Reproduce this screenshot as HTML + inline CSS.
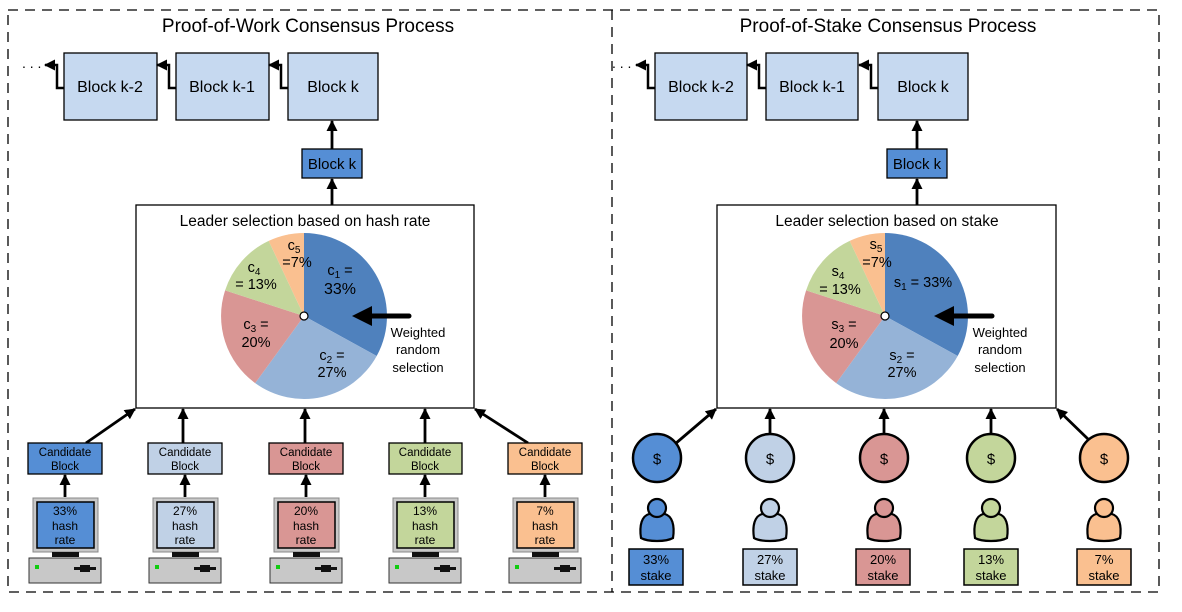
<!DOCTYPE html>
<html><head><meta charset="utf-8"><style>
body{margin:0;background:#fff;}
svg{display:block;font-family:"Liberation Sans",Arial,sans-serif;}
</style></head><body>
<svg width="1182" height="612" viewBox="0 0 1182 612" xmlns="http://www.w3.org/2000/svg">
<defs>
<marker id="ah" markerWidth="11" markerHeight="11" refX="10" refY="5.5" orient="auto" markerUnits="userSpaceOnUse"><path d="M0,0 L11,5.5 L0,11 Z" fill="#000"/></marker>
<g id="person">
<path d="M-16,19 C-18,6 -15,-3 -8,-5 L8,-5 C15,-3 18,6 16,19 C9,23 -9,23 -16,19 Z" stroke="#000" stroke-width="2.2"/>
<circle cx="0" cy="-11" r="9" stroke="#000" stroke-width="2.2"/>
</g>
</defs>
<rect x="8" y="10" width="1151" height="582" fill="none" stroke="#000" stroke-width="1.3" stroke-dasharray="10,7"/>
<line x1="612" y1="10" x2="612" y2="592" stroke="#000" stroke-width="1.3" stroke-dasharray="10,7"/>
<text x="308" y="32" font-size="19" text-anchor="middle">Proof-of-Work Consensus Process</text>
<text x="888" y="32" font-size="19" text-anchor="middle">Proof-of-Stake Consensus Process</text>

<g stroke="#000" stroke-width="1.3" fill="#c6d9f0">
<rect x="64" y="53" width="93" height="67"/>
<rect x="176" y="53" width="93" height="67"/>
<rect x="288" y="53" width="90" height="67"/>
</g>
<g font-size="16" text-anchor="middle">
<text x="110" y="92">Block k-2</text><text x="222" y="92">Block k-1</text><text x="333" y="92">Block k</text>
</g>
<g fill="none" stroke="#000" stroke-width="2.5">
<polyline points="64,88 57,88 57,65 45,65" marker-end="url(#ah)"/>
<polyline points="176,88 169,88 169,65 157,65" marker-end="url(#ah)"/>
<polyline points="288,88 281,88 281,65 269,65" marker-end="url(#ah)"/>
</g>
<text x="22" y="68" font-size="14">. . .</text>
<rect x="302" y="149" width="60" height="29" fill="#558ed5" stroke="#000" stroke-width="1.3"/>
<text x="332" y="169" font-size="15" text-anchor="middle">Block k</text>
<line x1="332" y1="149" x2="332" y2="121" stroke="#000" stroke-width="2.8" marker-end="url(#ah)"/>
<line x1="332" y1="205" x2="332" y2="179" stroke="#000" stroke-width="2.8" marker-end="url(#ah)"/>

<g stroke="#000" stroke-width="1.3" fill="#c6d9f0">
<rect x="655" y="53" width="92" height="67"/>
<rect x="766" y="53" width="92" height="67"/>
<rect x="878" y="53" width="90" height="67"/>
</g>
<g font-size="16" text-anchor="middle">
<text x="701" y="92">Block k-2</text><text x="812" y="92">Block k-1</text><text x="923" y="92">Block k</text>
</g>
<g fill="none" stroke="#000" stroke-width="2.5">
<polyline points="655,88 648,88 648,65 636,65" marker-end="url(#ah)"/>
<polyline points="766,88 759,88 759,65 747,65" marker-end="url(#ah)"/>
<polyline points="878,88 871,88 871,65 859,65" marker-end="url(#ah)"/>
</g>
<text x="612" y="68" font-size="14">. . .</text>
<rect x="887" y="149" width="60" height="29" fill="#558ed5" stroke="#000" stroke-width="1.3"/>
<text x="917" y="169" font-size="15" text-anchor="middle">Block k</text>
<line x1="917" y1="149" x2="917" y2="121" stroke="#000" stroke-width="2.8" marker-end="url(#ah)"/>
<line x1="917" y1="205" x2="917" y2="179" stroke="#000" stroke-width="2.8" marker-end="url(#ah)"/>

<rect x="136" y="205" width="338" height="203" fill="#fff" stroke="#000" stroke-width="1.3"/>
<rect x="717" y="205" width="339" height="203" fill="#fff" stroke="#000" stroke-width="1.3"/>
<text x="305" y="226" font-size="15.5" text-anchor="middle">Leader selection based on hash rate</text>
<text x="887" y="226" font-size="15.5" text-anchor="middle">Leader selection based on stake</text>

<g id="pieL">
<path d="M304,316 L304,233 A83,83 0 0 1 376.7,356 Z" fill="#4f81bd"/>
<path d="M304,316 L376.7,356 A83,83 0 0 1 255.2,383.1 Z" fill="#95b3d7"/>
<path d="M304,316 L255.2,383.1 A83,83 0 0 1 225.1,290.4 Z" fill="#d99694"/>
<path d="M304,316 L225.1,290.4 A83,83 0 0 1 268.7,240.9 Z" fill="#c3d69b"/>
<path d="M304,316 L268.7,240.9 A83,83 0 0 1 304,233 Z" fill="#fac090"/>
<circle cx="304" cy="316" r="4" fill="#fff" stroke="#000" stroke-width="1.2"/>
</g>
<use href="#pieL" transform="translate(581,0)"/>

<g font-size="14.5" text-anchor="middle">
<text x="294" y="250">c<tspan font-size="10" dy="3">5</tspan></text>
<text x="297" y="267">=7%</text>
<text x="340" y="275">c<tspan font-size="10" dy="3">1</tspan><tspan dy="-3"> =</tspan></text>
<text x="340" y="294" font-size="16">33%</text>
<text x="254" y="272">c<tspan font-size="10" dy="3">4</tspan></text>
<text x="256" y="289">= 13%</text>
<text x="256" y="329">c<tspan font-size="10" dy="3">3</tspan><tspan dy="-3"> =</tspan></text>
<text x="256" y="347">20%</text>
<text x="332" y="360">c<tspan font-size="10" dy="3">2</tspan><tspan dy="-3"> =</tspan></text>
<text x="332" y="377">27%</text>

<text x="876" y="249">s<tspan font-size="10" dy="3">5</tspan></text>
<text x="877" y="267">=7%</text>
<text x="923" y="287">s<tspan font-size="10" dy="3">1</tspan><tspan dy="-3"> = 33%</tspan></text>
<text x="838" y="276">s<tspan font-size="10" dy="3">4</tspan></text>
<text x="840" y="294">= 13%</text>
<text x="844" y="329">s<tspan font-size="10" dy="3">3</tspan><tspan dy="-3"> =</tspan></text>
<text x="844" y="348">20%</text>
<text x="902" y="360">s<tspan font-size="10" dy="3">2</tspan><tspan dy="-3"> =</tspan></text>
<text x="902" y="377">27%</text>
</g>
<g font-size="13" text-anchor="middle">
<text x="418" y="337">Weighted</text><text x="418" y="354">random</text><text x="418" y="372">selection</text>
<text x="1000" y="337">Weighted</text><text x="1000" y="354">random</text><text x="1000" y="372">selection</text>
</g>
<g stroke="#000" stroke-width="5" stroke-linecap="round">
<line x1="409" y1="316" x2="368" y2="316"/>
<line x1="992" y1="316" x2="950" y2="316"/>
</g>
<path d="M352,316 L372,306 L372,326 Z"/>
<path d="M934,316 L954,306 L954,326 Z"/>

<g stroke="#000" stroke-width="2.8">
<line x1="86" y1="443" x2="135" y2="409" marker-end="url(#ah)"/>
<line x1="183" y1="443" x2="183" y2="409" marker-end="url(#ah)"/>
<line x1="305" y1="443" x2="305" y2="409" marker-end="url(#ah)"/>
<line x1="425" y1="443" x2="425" y2="409" marker-end="url(#ah)"/>
<line x1="528" y1="443" x2="475" y2="409" marker-end="url(#ah)"/>
</g>
<g stroke="#000" stroke-width="1.3">
<rect x="28" y="443" width="74" height="31" fill="#558ed5"/>
<rect x="148" y="443" width="74" height="31" fill="#c0d1e6"/>
<rect x="269" y="443" width="74" height="31" fill="#d99694"/>
<rect x="389" y="443" width="73" height="31" fill="#c3d69b"/>
<rect x="508" y="443" width="74" height="31" fill="#fac090"/>
</g>
<g font-size="11.5" text-anchor="middle">
<text x="65" y="456">Candidate</text><text x="65" y="470">Block</text>
<text x="185" y="456">Candidate</text><text x="185" y="470">Block</text>
<text x="306" y="456">Candidate</text><text x="306" y="470">Block</text>
<text x="425" y="456">Candidate</text><text x="425" y="470">Block</text>
<text x="545" y="456">Candidate</text><text x="545" y="470">Block</text>
</g>
<g stroke="#000" stroke-width="2.8">
<line x1="65" y1="497" x2="65" y2="475" marker-end="url(#ah)"/>
<line x1="185" y1="497" x2="185" y2="475" marker-end="url(#ah)"/>
<line x1="306" y1="497" x2="306" y2="475" marker-end="url(#ah)"/>
<line x1="425" y1="497" x2="425" y2="475" marker-end="url(#ah)"/>
<line x1="545" y1="497" x2="545" y2="475" marker-end="url(#ah)"/>
</g>
<g id="comp">
<rect x="33" y="498" width="65" height="54" fill="#c8c8c8" stroke="#888" stroke-width="1"/>
<rect x="52" y="552" width="27" height="5" fill="#111"/>
<rect x="29" y="558" width="72" height="25" fill="#c8c8c8" stroke="#333" stroke-width="1"/>
<rect x="35" y="565" width="4" height="4" fill="#1c1"/>
<rect x="74" y="567" width="22" height="3" fill="#111"/>
<rect x="80" y="565" width="10" height="7" fill="#111"/>
</g>
<use href="#comp" transform="translate(120,0)"/>
<use href="#comp" transform="translate(241,0)"/>
<use href="#comp" transform="translate(360,0)"/>
<use href="#comp" transform="translate(480,0)"/>
<g stroke="#000" stroke-width="1.5">
<rect x="37" y="502" width="57" height="46" fill="#558ed5"/>
<rect x="157" y="502" width="57" height="46" fill="#c0d1e6"/>
<rect x="278" y="502" width="57" height="46" fill="#d99694"/>
<rect x="397" y="502" width="57" height="46" fill="#c3d69b"/>
<rect x="517" y="502" width="57" height="46" fill="#fac090"/>
</g>
<g font-size="12" text-anchor="middle">
<text x="65" y="515">33%</text><text x="65" y="530">hash</text><text x="65" y="544">rate</text>
<text x="185" y="515">27%</text><text x="185" y="530">hash</text><text x="185" y="544">rate</text>
<text x="306" y="515">20%</text><text x="306" y="530">hash</text><text x="306" y="544">rate</text>
<text x="425" y="515">13%</text><text x="425" y="530">hash</text><text x="425" y="544">rate</text>
<text x="545" y="515">7%</text><text x="545" y="530">hash</text><text x="545" y="544">rate</text>
</g>

<g stroke="#000" stroke-width="2.8">
<line x1="675" y1="444" x2="716" y2="409" marker-end="url(#ah)"/>
<line x1="770" y1="434" x2="770" y2="409" marker-end="url(#ah)"/>
<line x1="884" y1="434" x2="884" y2="409" marker-end="url(#ah)"/>
<line x1="991" y1="434" x2="991" y2="409" marker-end="url(#ah)"/>
<line x1="1089" y1="440" x2="1057" y2="409" marker-end="url(#ah)"/>
</g>
<g stroke="#000" stroke-width="2.5">
<circle cx="657" cy="458" r="24" fill="#558ed5"/>
<circle cx="770" cy="458" r="24" fill="#c0d1e6"/>
<circle cx="884" cy="458" r="24" fill="#d99694"/>
<circle cx="991" cy="458" r="24" fill="#c3d69b"/>
<circle cx="1104" cy="458" r="24" fill="#fac090"/>
</g>
<g font-size="15" text-anchor="middle">
<text x="657" y="464">$</text><text x="770" y="464">$</text><text x="884" y="464">$</text><text x="991" y="464">$</text><text x="1104" y="464">$</text>
</g>
<use href="#person" transform="translate(657,519)" fill="#558ed5"/>
<use href="#person" transform="translate(770,519)" fill="#c0d1e6"/>
<use href="#person" transform="translate(884,519)" fill="#d99694"/>
<use href="#person" transform="translate(991,519)" fill="#c3d69b"/>
<use href="#person" transform="translate(1104,519)" fill="#fac090"/>
<g stroke="#000" stroke-width="1.5">
<rect x="629" y="549" width="54" height="36" fill="#558ed5"/>
<rect x="743" y="549" width="54" height="36" fill="#c0d1e6"/>
<rect x="856" y="549" width="54" height="36" fill="#d99694"/>
<rect x="964" y="549" width="54" height="36" fill="#c3d69b"/>
<rect x="1077" y="549" width="54" height="36" fill="#fac090"/>
</g>
<g font-size="13" text-anchor="middle">
<text x="656" y="564">33%</text><text x="656" y="580">stake</text>
<text x="770" y="564">27%</text><text x="770" y="580">stake</text>
<text x="883" y="564">20%</text><text x="883" y="580">stake</text>
<text x="991" y="564">13%</text><text x="991" y="580">stake</text>
<text x="1104" y="564">7%</text><text x="1104" y="580">stake</text>
</g>
</svg>
</body></html>
